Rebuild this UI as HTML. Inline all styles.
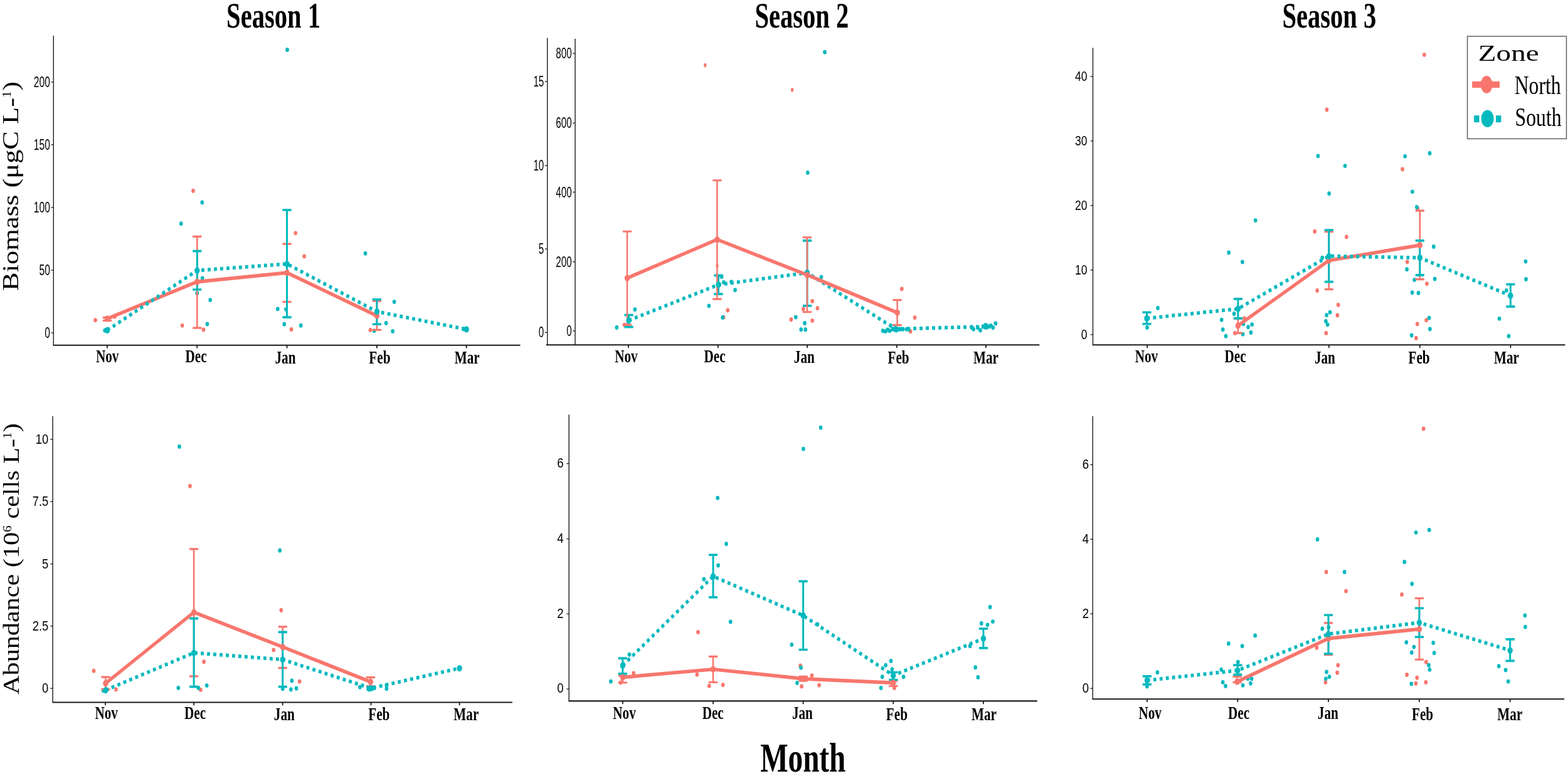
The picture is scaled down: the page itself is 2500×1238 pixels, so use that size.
<!DOCTYPE html>
<html><head><meta charset="utf-8"><title>Season Zone Biomass Abundance</title>
<style>
html,body{margin:0;padding:0;background:#fff;overflow:hidden;width:2500px;height:1238px;}
svg{display:block;}
</style></head>
<body>
<svg width="2500" height="1238" viewBox="0 0 2500 1238">
<rect x="0" y="0" width="2500" height="1238" fill="#fff"/>
<line x1="85.3" y1="57" x2="85.3" y2="550.7" stroke="#1a1a1a" stroke-width="1.4"/>
<line x1="81.5" y1="531" x2="85.3" y2="531" stroke="#1a1a1a" stroke-width="1.3"/>
<text transform="translate(79.9 539.1) scale(0.640 1)" font-family="'Liberation Sans', Arial, sans-serif" font-size="24.5" font-weight="normal" text-anchor="end" fill="#000">0</text>
<line x1="81.5" y1="431" x2="85.3" y2="431" stroke="#1a1a1a" stroke-width="1.3"/>
<text transform="translate(79.9 439.1) scale(0.640 1)" font-family="'Liberation Sans', Arial, sans-serif" font-size="24.5" font-weight="normal" text-anchor="end" fill="#000">50</text>
<line x1="81.5" y1="331" x2="85.3" y2="331" stroke="#1a1a1a" stroke-width="1.3"/>
<text transform="translate(79.9 339.1) scale(0.640 1)" font-family="'Liberation Sans', Arial, sans-serif" font-size="24.5" font-weight="normal" text-anchor="end" fill="#000">100</text>
<line x1="81.5" y1="231" x2="85.3" y2="231" stroke="#1a1a1a" stroke-width="1.3"/>
<text transform="translate(79.9 239.1) scale(0.640 1)" font-family="'Liberation Sans', Arial, sans-serif" font-size="24.5" font-weight="normal" text-anchor="end" fill="#000">150</text>
<line x1="81.5" y1="131" x2="85.3" y2="131" stroke="#1a1a1a" stroke-width="1.3"/>
<text transform="translate(79.9 139.1) scale(0.640 1)" font-family="'Liberation Sans', Arial, sans-serif" font-size="24.5" font-weight="normal" text-anchor="end" fill="#000">200</text>
<line x1="84.6" y1="550.7" x2="829.5" y2="550.7" stroke="#1a1a1a" stroke-width="2.1"/>
<line x1="170.8" y1="550.7" x2="170.8" y2="555.5" stroke="#1a1a1a" stroke-width="1.8"/>
<text transform="translate(171.1 578.4) scale(0.730 1)" font-family="'Liberation Serif', 'Times New Roman', serif" font-size="29" font-weight="bold" text-anchor="middle" fill="#000">Nov</text>
<line x1="314.2" y1="550.7" x2="314.2" y2="555.5" stroke="#1a1a1a" stroke-width="1.8"/>
<text transform="translate(312.6 578.4) scale(0.730 1)" font-family="'Liberation Serif', 'Times New Roman', serif" font-size="29" font-weight="bold" text-anchor="middle" fill="#000">Dec</text>
<line x1="457.5" y1="550.7" x2="457.5" y2="555.5" stroke="#1a1a1a" stroke-width="1.8"/>
<text transform="translate(455 580) scale(0.730 1)" font-family="'Liberation Serif', 'Times New Roman', serif" font-size="29" font-weight="bold" text-anchor="middle" fill="#000">Jan</text>
<line x1="600.9" y1="550.7" x2="600.9" y2="555.5" stroke="#1a1a1a" stroke-width="1.8"/>
<text transform="translate(605.4 580.2) scale(0.730 1)" font-family="'Liberation Serif', 'Times New Roman', serif" font-size="29" font-weight="bold" text-anchor="middle" fill="#000">Feb</text>
<line x1="743.7" y1="550.7" x2="743.7" y2="555.5" stroke="#1a1a1a" stroke-width="1.8"/>
<text transform="translate(744.7 580.2) scale(0.730 1)" font-family="'Liberation Serif', 'Times New Roman', serif" font-size="29" font-weight="bold" text-anchor="middle" fill="#000">Mar</text>
<g transform="scale(1 1.22)">
<circle cx="152" cy="418.6" r="2.85" fill="#F8766D"/>
<circle cx="308" cy="249.5" r="2.85" fill="#F8766D"/>
<circle cx="290.6" cy="425.7" r="2.85" fill="#F8766D"/>
<circle cx="324.5" cy="431.1" r="2.85" fill="#F8766D"/>
<circle cx="471.2" cy="304.8" r="2.85" fill="#F8766D"/>
<circle cx="485.1" cy="335.2" r="2.85" fill="#F8766D"/>
<circle cx="464.6" cy="430.7" r="2.85" fill="#F8766D"/>
<circle cx="590.5" cy="431.5" r="2.85" fill="#F8766D"/>
<circle cx="183" cy="413.9" r="2.85" fill="#F8766D"/>
<circle cx="167.2" cy="432.1" r="2.85" fill="#03B9BE"/>
<circle cx="458" cy="65.1" r="2.85" fill="#03B9BE"/>
<circle cx="322.3" cy="264.8" r="2.85" fill="#03B9BE"/>
<circle cx="288.8" cy="292.5" r="2.85" fill="#03B9BE"/>
<circle cx="322.7" cy="363.9" r="2.85" fill="#03B9BE"/>
<circle cx="335.2" cy="392.3" r="2.85" fill="#03B9BE"/>
<circle cx="330.4" cy="423.8" r="2.85" fill="#03B9BE"/>
<circle cx="442.8" cy="404" r="2.85" fill="#03B9BE"/>
<circle cx="456" cy="404.6" r="2.85" fill="#03B9BE"/>
<circle cx="453.2" cy="423.9" r="2.85" fill="#03B9BE"/>
<circle cx="479.7" cy="425.6" r="2.85" fill="#03B9BE"/>
<circle cx="582.5" cy="331.4" r="2.85" fill="#03B9BE"/>
<circle cx="628.6" cy="394.6" r="2.85" fill="#03B9BE"/>
<circle cx="615.6" cy="422.5" r="2.85" fill="#03B9BE"/>
<circle cx="626.1" cy="433.1" r="2.85" fill="#03B9BE"/>
<circle cx="596.6" cy="432.6" r="2.85" fill="#03B9BE"/>
<circle cx="739" cy="430.3" r="2.85" fill="#03B9BE"/>
<circle cx="314.3" cy="383.4" r="2.85" fill="#03B9BE"/>
<path d="M171 415.2V419.2M163.9 415.2H178.1M163.9 419.2H178.1" stroke="#F8766D" stroke-width="2.6" fill="none"/>
<path d="M314.3 309.3V428.8M307.2 309.3H321.4M307.2 428.8H321.4" stroke="#F8766D" stroke-width="2.6" fill="none"/>
<path d="M457.5 318.9V394.7M450.4 318.9H464.6M450.4 394.7H464.6" stroke="#F8766D" stroke-width="2.6" fill="none"/>
<path d="M600.9 393.5V431.5M593.8 393.5H608M593.8 431.5H608" stroke="#F8766D" stroke-width="2.6" fill="none"/>
<path d="M314.3 328.4V378.7M307.2 328.4H321.4M307.2 378.7H321.4" stroke="#03B9BE" stroke-width="3" fill="none"/>
<path d="M457.5 274.6V414.8M450.4 274.6H464.6M450.4 414.8H464.6" stroke="#03B9BE" stroke-width="3" fill="none"/>
<path d="M600.9 391.6V424M593.8 391.6H608M593.8 424H608" stroke="#03B9BE" stroke-width="3" fill="none"/>
<polyline points="171,416.7 314.3,368.5 457.5,356.6 600.9,412.9" stroke="#F8766D" stroke-width="4.7" fill="none" stroke-linejoin="round"/>
<polyline points="171,431.8 314.3,353.7 457.5,345.1 600.9,407.5 743.7,430.7" stroke="#03B9BE" stroke-width="4.7" fill="none" stroke-dasharray="4.8 5.2"/>
<circle cx="171" cy="416.7" r="4.2" fill="#F8766D"/>
<circle cx="314.3" cy="368.5" r="4.2" fill="#F8766D"/>
<circle cx="457.5" cy="356.6" r="4.2" fill="#F8766D"/>
<circle cx="600.9" cy="412.9" r="4.2" fill="#F8766D"/>
<circle cx="171" cy="431.8" r="4.2" fill="#03B9BE"/>
<circle cx="314.3" cy="353.7" r="4.2" fill="#03B9BE"/>
<circle cx="457.5" cy="345.1" r="4.2" fill="#03B9BE"/>
<circle cx="600.9" cy="407.5" r="4.2" fill="#03B9BE"/>
<circle cx="743.7" cy="430.7" r="4.2" fill="#03B9BE"/>
</g>
<line x1="917" y1="61.8" x2="917" y2="550.2" stroke="#1a1a1a" stroke-width="1.4"/>
<line x1="913.2" y1="527.9" x2="917" y2="527.9" stroke="#1a1a1a" stroke-width="1.3"/>
<text transform="translate(911.6 536) scale(0.620 1)" font-family="'Liberation Sans', Arial, sans-serif" font-size="24.5" font-weight="normal" text-anchor="end" fill="#000">0</text>
<line x1="913.2" y1="417.7" x2="917" y2="417.7" stroke="#1a1a1a" stroke-width="1.3"/>
<text transform="translate(911.6 425.8) scale(0.620 1)" font-family="'Liberation Sans', Arial, sans-serif" font-size="24.5" font-weight="normal" text-anchor="end" fill="#000">200</text>
<line x1="913.2" y1="306.5" x2="917" y2="306.5" stroke="#1a1a1a" stroke-width="1.3"/>
<text transform="translate(911.6 314.6) scale(0.620 1)" font-family="'Liberation Sans', Arial, sans-serif" font-size="24.5" font-weight="normal" text-anchor="end" fill="#000">400</text>
<line x1="913.2" y1="196.3" x2="917" y2="196.3" stroke="#1a1a1a" stroke-width="1.3"/>
<text transform="translate(911.6 204.4) scale(0.620 1)" font-family="'Liberation Sans', Arial, sans-serif" font-size="24.5" font-weight="normal" text-anchor="end" fill="#000">600</text>
<line x1="913.2" y1="85.3" x2="917" y2="85.3" stroke="#1a1a1a" stroke-width="1.3"/>
<text transform="translate(911.6 93.4) scale(0.620 1)" font-family="'Liberation Sans', Arial, sans-serif" font-size="24.5" font-weight="normal" text-anchor="end" fill="#000">800</text>
<line x1="872.7" y1="60.6" x2="872.7" y2="550.2" stroke="#1a1a1a" stroke-width="1.4"/>
<line x1="868.9" y1="530.3" x2="872.7" y2="530.3" stroke="#1a1a1a" stroke-width="1.3"/>
<text transform="translate(867.3 538.4) scale(0.620 1)" font-family="'Liberation Sans', Arial, sans-serif" font-size="24.5" font-weight="normal" text-anchor="end" fill="#000">0</text>
<line x1="868.9" y1="397.2" x2="872.7" y2="397.2" stroke="#1a1a1a" stroke-width="1.3"/>
<text transform="translate(867.3 405.3) scale(0.620 1)" font-family="'Liberation Sans', Arial, sans-serif" font-size="24.5" font-weight="normal" text-anchor="end" fill="#000">5</text>
<line x1="868.9" y1="264.1" x2="872.7" y2="264.1" stroke="#1a1a1a" stroke-width="1.3"/>
<text transform="translate(867.3 272.2) scale(0.620 1)" font-family="'Liberation Sans', Arial, sans-serif" font-size="24.5" font-weight="normal" text-anchor="end" fill="#000">10</text>
<line x1="868.9" y1="130.1" x2="872.7" y2="130.1" stroke="#1a1a1a" stroke-width="1.3"/>
<text transform="translate(867.3 138.2) scale(0.620 1)" font-family="'Liberation Sans', Arial, sans-serif" font-size="24.5" font-weight="normal" text-anchor="end" fill="#000">15</text>
<line x1="870.8" y1="550.2" x2="1657.3" y2="550.2" stroke="#1a1a1a" stroke-width="2.1"/>
<line x1="1002" y1="550.2" x2="1002" y2="555" stroke="#1a1a1a" stroke-width="1.8"/>
<text transform="translate(998.4 578.4) scale(0.730 1)" font-family="'Liberation Serif', 'Times New Roman', serif" font-size="29" font-weight="bold" text-anchor="middle" fill="#000">Nov</text>
<line x1="1144.8" y1="550.2" x2="1144.8" y2="555" stroke="#1a1a1a" stroke-width="1.8"/>
<text transform="translate(1139.6 578.4) scale(0.730 1)" font-family="'Liberation Serif', 'Times New Roman', serif" font-size="29" font-weight="bold" text-anchor="middle" fill="#000">Dec</text>
<line x1="1287" y1="550.2" x2="1287" y2="555" stroke="#1a1a1a" stroke-width="1.8"/>
<text transform="translate(1282.3 579.4) scale(0.730 1)" font-family="'Liberation Serif', 'Times New Roman', serif" font-size="29" font-weight="bold" text-anchor="middle" fill="#000">Jan</text>
<line x1="1429.8" y1="550.2" x2="1429.8" y2="555" stroke="#1a1a1a" stroke-width="1.8"/>
<text transform="translate(1432.6 579.9) scale(0.730 1)" font-family="'Liberation Serif', 'Times New Roman', serif" font-size="29" font-weight="bold" text-anchor="middle" fill="#000">Feb</text>
<line x1="1572" y1="550.2" x2="1572" y2="555" stroke="#1a1a1a" stroke-width="1.8"/>
<text transform="translate(1572 579.9) scale(0.730 1)" font-family="'Liberation Serif', 'Times New Roman', serif" font-size="29" font-weight="bold" text-anchor="middle" fill="#000">Mar</text>
<g transform="scale(1 1.22)">
<circle cx="995.5" cy="424.8" r="2.85" fill="#F8766D"/>
<circle cx="1153.5" cy="414.9" r="2.85" fill="#F8766D"/>
<circle cx="1160.3" cy="405.7" r="2.85" fill="#F8766D"/>
<circle cx="1295.2" cy="393.8" r="2.85" fill="#F8766D"/>
<circle cx="1303.4" cy="403" r="2.85" fill="#F8766D"/>
<circle cx="1280.8" cy="404" r="2.85" fill="#F8766D"/>
<circle cx="1261.3" cy="417.9" r="2.85" fill="#F8766D"/>
<circle cx="1295.2" cy="419.3" r="2.85" fill="#F8766D"/>
<circle cx="1437.8" cy="377.8" r="2.85" fill="#F8766D"/>
<circle cx="1458.6" cy="415.3" r="2.85" fill="#F8766D"/>
<circle cx="1451.7" cy="433.3" r="2.85" fill="#F8766D"/>
<ellipse cx="1124.2" cy="85.3" rx="2.1" ry="2.75" fill="#F8766D"/>
<ellipse cx="1263.1" cy="117.5" rx="2.1" ry="2.75" fill="#F8766D"/>
<ellipse cx="1143.5" cy="347.5" rx="2.1" ry="2.75" fill="#F8766D"/>
<circle cx="1315" cy="68.3" r="2.85" fill="#03B9BE"/>
<circle cx="1287.8" cy="225.8" r="2.85" fill="#03B9BE"/>
<circle cx="983.3" cy="428.3" r="2.85" fill="#03B9BE"/>
<circle cx="1012.3" cy="404.7" r="2.85" fill="#03B9BE"/>
<circle cx="1150.6" cy="361.8" r="2.85" fill="#03B9BE"/>
<circle cx="1153.9" cy="369.2" r="2.85" fill="#03B9BE"/>
<circle cx="1166.1" cy="368.7" r="2.85" fill="#03B9BE"/>
<circle cx="1172" cy="379.3" r="2.85" fill="#03B9BE"/>
<circle cx="1130.3" cy="399.9" r="2.85" fill="#03B9BE"/>
<circle cx="1152.2" cy="415.2" r="2.85" fill="#03B9BE"/>
<circle cx="1309.5" cy="362.3" r="2.85" fill="#03B9BE"/>
<circle cx="1268.8" cy="414.8" r="2.85" fill="#03B9BE"/>
<circle cx="1283" cy="422.5" r="2.85" fill="#03B9BE"/>
<circle cx="1277.2" cy="430.9" r="2.85" fill="#03B9BE"/>
<circle cx="1284.2" cy="430.9" r="2.85" fill="#03B9BE"/>
<circle cx="1407.6" cy="432.5" r="2.85" fill="#03B9BE"/>
<circle cx="1411.8" cy="433.3" r="2.85" fill="#03B9BE"/>
<circle cx="1415.2" cy="431.1" r="2.85" fill="#03B9BE"/>
<circle cx="1418.5" cy="432.5" r="2.85" fill="#03B9BE"/>
<circle cx="1420.2" cy="425.7" r="2.85" fill="#03B9BE"/>
<circle cx="1426.9" cy="429.8" r="2.85" fill="#03B9BE"/>
<circle cx="1429.4" cy="431.9" r="2.85" fill="#03B9BE"/>
<circle cx="1435.3" cy="430.5" r="2.85" fill="#03B9BE"/>
<circle cx="1439.5" cy="430.5" r="2.85" fill="#03B9BE"/>
<circle cx="1445.4" cy="430.5" r="2.85" fill="#03B9BE"/>
<circle cx="1448.8" cy="430.5" r="2.85" fill="#03B9BE"/>
<circle cx="1549.6" cy="428.1" r="2.85" fill="#03B9BE"/>
<circle cx="1552.1" cy="430.5" r="2.85" fill="#03B9BE"/>
<circle cx="1558.8" cy="428.4" r="2.85" fill="#03B9BE"/>
<circle cx="1563" cy="431.9" r="2.85" fill="#03B9BE"/>
<circle cx="1568" cy="427" r="2.85" fill="#03B9BE"/>
<circle cx="1571.4" cy="425" r="2.85" fill="#03B9BE"/>
<circle cx="1575.6" cy="427" r="2.85" fill="#03B9BE"/>
<circle cx="1579.8" cy="425.7" r="2.85" fill="#03B9BE"/>
<circle cx="1583.2" cy="428.4" r="2.85" fill="#03B9BE"/>
<circle cx="1587.4" cy="423" r="2.85" fill="#03B9BE"/>
<path d="M1002.5 412V427.5M995.4 412H1009.6M995.4 427.5H1009.6" stroke="#03B9BE" stroke-width="3" fill="none"/>
<path d="M1145.5 360.2V384.5M1138.4 360.2H1152.6M1138.4 384.5H1152.6" stroke="#03B9BE" stroke-width="3" fill="none"/>
<path d="M1287 314.7V399.9M1279.9 314.7H1294.1M1279.9 399.9H1294.1" stroke="#03B9BE" stroke-width="3" fill="none"/>
<path d="M1428 429.1V431.6M1420.9 429.1H1435.1M1420.9 431.6H1435.1" stroke="#03B9BE" stroke-width="3" fill="none"/>
<path d="M1572 425.8V428.3M1564.9 425.8H1579.1M1564.9 428.3H1579.1" stroke="#03B9BE" stroke-width="3" fill="none"/>
<path d="M1000 302.6V424.9M992.9 302.6H1007.1M992.9 424.9H1007.1" stroke="#F8766D" stroke-width="2.5" fill="none"/>
<path d="M1143.4 235.8V391.1M1136.3 235.8H1150.5M1136.3 391.1H1150.5" stroke="#F8766D" stroke-width="2.5" fill="none"/>
<path d="M1286.9 310.4V408M1279.8 310.4H1294M1279.8 408H1294" stroke="#F8766D" stroke-width="2.5" fill="none"/>
<path d="M1430.6 392.3V425.1M1423.5 392.3H1437.7M1423.5 425.1H1437.7" stroke="#F8766D" stroke-width="2.5" fill="none"/>
<polyline points="1002.5,419 1145.5,372.3 1287,356.7 1428,430.3 1572,427" stroke="#03B9BE" stroke-width="4.7" fill="none" stroke-dasharray="4.8 5.2"/>
<polyline points="1000,363.6 1143.4,313.2 1286.9,359.5 1430.6,408.8" stroke="#F8766D" stroke-width="4.7" fill="none" stroke-linejoin="round"/>
<circle cx="1002.5" cy="419" r="4.2" fill="#03B9BE"/>
<circle cx="1145.5" cy="372.3" r="4.2" fill="#03B9BE"/>
<circle cx="1287" cy="356.7" r="4.2" fill="#03B9BE"/>
<circle cx="1428" cy="430.3" r="4.2" fill="#03B9BE"/>
<circle cx="1572" cy="427" r="4.2" fill="#03B9BE"/>
<circle cx="1000" cy="363.6" r="4.2" fill="#F8766D"/>
<circle cx="1143.4" cy="313.2" r="4.2" fill="#F8766D"/>
<circle cx="1286.9" cy="359.5" r="4.2" fill="#F8766D"/>
<circle cx="1430.6" cy="408.8" r="4.2" fill="#F8766D"/>
</g>
<line x1="1742.5" y1="76.2" x2="1742.5" y2="550.3" stroke="#1a1a1a" stroke-width="1.4"/>
<line x1="1738.7" y1="533.8" x2="1742.5" y2="533.8" stroke="#1a1a1a" stroke-width="1.3"/>
<text transform="translate(1733.5 541.2) scale(0.770 1)" font-family="'Liberation Sans', Arial, sans-serif" font-size="22.7" font-weight="normal" text-anchor="end" fill="#000">0</text>
<line x1="1738.7" y1="430.8" x2="1742.5" y2="430.8" stroke="#1a1a1a" stroke-width="1.3"/>
<text transform="translate(1733.5 438.2) scale(0.770 1)" font-family="'Liberation Sans', Arial, sans-serif" font-size="22.7" font-weight="normal" text-anchor="end" fill="#000">10</text>
<line x1="1738.7" y1="327.9" x2="1742.5" y2="327.9" stroke="#1a1a1a" stroke-width="1.3"/>
<text transform="translate(1733.5 335.3) scale(0.770 1)" font-family="'Liberation Sans', Arial, sans-serif" font-size="22.7" font-weight="normal" text-anchor="end" fill="#000">20</text>
<line x1="1738.7" y1="224.9" x2="1742.5" y2="224.9" stroke="#1a1a1a" stroke-width="1.3"/>
<text transform="translate(1733.5 232.3) scale(0.770 1)" font-family="'Liberation Sans', Arial, sans-serif" font-size="22.7" font-weight="normal" text-anchor="end" fill="#000">30</text>
<line x1="1738.7" y1="122" x2="1742.5" y2="122" stroke="#1a1a1a" stroke-width="1.3"/>
<text transform="translate(1733.5 129.4) scale(0.770 1)" font-family="'Liberation Sans', Arial, sans-serif" font-size="22.7" font-weight="normal" text-anchor="end" fill="#000">40</text>
<line x1="1741.8" y1="550.3" x2="2495.5" y2="550.3" stroke="#1a1a1a" stroke-width="2.1"/>
<line x1="1829" y1="550.3" x2="1829" y2="555.1" stroke="#1a1a1a" stroke-width="1.8"/>
<text transform="translate(1827.9 578.4) scale(0.730 1)" font-family="'Liberation Serif', 'Times New Roman', serif" font-size="29" font-weight="bold" text-anchor="middle" fill="#000">Nov</text>
<line x1="1973.9" y1="550.3" x2="1973.9" y2="555.1" stroke="#1a1a1a" stroke-width="1.8"/>
<text transform="translate(1969.5 578.4) scale(0.730 1)" font-family="'Liberation Serif', 'Times New Roman', serif" font-size="29" font-weight="bold" text-anchor="middle" fill="#000">Dec</text>
<line x1="2118.8" y1="550.3" x2="2118.8" y2="555.1" stroke="#1a1a1a" stroke-width="1.8"/>
<text transform="translate(2112.4 580) scale(0.730 1)" font-family="'Liberation Serif', 'Times New Roman', serif" font-size="29" font-weight="bold" text-anchor="middle" fill="#000">Jan</text>
<line x1="2263.8" y1="550.3" x2="2263.8" y2="555.1" stroke="#1a1a1a" stroke-width="1.8"/>
<text transform="translate(2262.5 580) scale(0.730 1)" font-family="'Liberation Serif', 'Times New Roman', serif" font-size="29" font-weight="bold" text-anchor="middle" fill="#000">Feb</text>
<line x1="2408.4" y1="550.3" x2="2408.4" y2="555.1" stroke="#1a1a1a" stroke-width="1.8"/>
<text transform="translate(2401.9 580) scale(0.730 1)" font-family="'Liberation Serif', 'Times New Roman', serif" font-size="29" font-weight="bold" text-anchor="middle" fill="#000">Mar</text>
<g transform="scale(1 1.22)">
<circle cx="1969" cy="435.6" r="2.85" fill="#F8766D"/>
<circle cx="1984" cy="416.3" r="2.85" fill="#F8766D"/>
<circle cx="2115.4" cy="143.4" r="2.85" fill="#F8766D"/>
<circle cx="2270.8" cy="71.6" r="2.85" fill="#F8766D"/>
<circle cx="2096.2" cy="302.6" r="2.85" fill="#F8766D"/>
<circle cx="2146.8" cy="309.8" r="2.85" fill="#F8766D"/>
<circle cx="2100.1" cy="379.9" r="2.85" fill="#F8766D"/>
<circle cx="2133.7" cy="398.7" r="2.85" fill="#F8766D"/>
<circle cx="2132.4" cy="412.3" r="2.85" fill="#F8766D"/>
<circle cx="2114.3" cy="435.6" r="2.85" fill="#F8766D"/>
<circle cx="2236.1" cy="221.3" r="2.85" fill="#F8766D"/>
<circle cx="2260.3" cy="273" r="2.85" fill="#F8766D"/>
<circle cx="2243.7" cy="342.6" r="2.85" fill="#F8766D"/>
<circle cx="2275" cy="371" r="2.85" fill="#F8766D"/>
<circle cx="2274.1" cy="418.6" r="2.85" fill="#F8766D"/>
<circle cx="2259.7" cy="423.8" r="2.85" fill="#F8766D"/>
<circle cx="2257.9" cy="442.2" r="2.85" fill="#F8766D"/>
<circle cx="1846" cy="402.8" r="2.85" fill="#03B9BE"/>
<circle cx="1829" cy="428.2" r="2.85" fill="#03B9BE"/>
<circle cx="2001.7" cy="288.2" r="2.85" fill="#03B9BE"/>
<circle cx="1959.1" cy="330.3" r="2.85" fill="#03B9BE"/>
<circle cx="1980.9" cy="342.6" r="2.85" fill="#03B9BE"/>
<circle cx="1967.6" cy="410.3" r="2.85" fill="#03B9BE"/>
<circle cx="1947.7" cy="418.3" r="2.85" fill="#03B9BE"/>
<circle cx="1982.4" cy="423.6" r="2.85" fill="#03B9BE"/>
<circle cx="1990.1" cy="427.6" r="2.85" fill="#03B9BE"/>
<circle cx="1996.2" cy="424.3" r="2.85" fill="#03B9BE"/>
<circle cx="1949.7" cy="431" r="2.85" fill="#03B9BE"/>
<circle cx="1954.5" cy="439.5" r="2.85" fill="#03B9BE"/>
<circle cx="1981.6" cy="437" r="2.85" fill="#03B9BE"/>
<circle cx="1994.5" cy="434.9" r="2.85" fill="#03B9BE"/>
<circle cx="2101.4" cy="204" r="2.85" fill="#03B9BE"/>
<circle cx="2144.5" cy="216.9" r="2.85" fill="#03B9BE"/>
<circle cx="2119.1" cy="253" r="2.85" fill="#03B9BE"/>
<circle cx="2108.2" cy="337" r="2.85" fill="#03B9BE"/>
<circle cx="2120.6" cy="408.3" r="2.85" fill="#03B9BE"/>
<circle cx="2115.2" cy="412" r="2.85" fill="#03B9BE"/>
<circle cx="2113.9" cy="420.1" r="2.85" fill="#03B9BE"/>
<circle cx="2116.6" cy="424.5" r="2.85" fill="#03B9BE"/>
<circle cx="2240.2" cy="204.4" r="2.85" fill="#03B9BE"/>
<circle cx="2279.5" cy="200.4" r="2.85" fill="#03B9BE"/>
<circle cx="2251.9" cy="250.7" r="2.85" fill="#03B9BE"/>
<circle cx="2258.9" cy="270.9" r="2.85" fill="#03B9BE"/>
<circle cx="2285.8" cy="322.5" r="2.85" fill="#03B9BE"/>
<circle cx="2243.1" cy="352.3" r="2.85" fill="#03B9BE"/>
<circle cx="2255.2" cy="365.9" r="2.85" fill="#03B9BE"/>
<circle cx="2287.6" cy="364.8" r="2.85" fill="#03B9BE"/>
<circle cx="2251.6" cy="382.5" r="2.85" fill="#03B9BE"/>
<circle cx="2261.5" cy="383.2" r="2.85" fill="#03B9BE"/>
<circle cx="2278.6" cy="415.7" r="2.85" fill="#03B9BE"/>
<circle cx="2279.9" cy="430.4" r="2.85" fill="#03B9BE"/>
<circle cx="2250.7" cy="438.5" r="2.85" fill="#03B9BE"/>
<circle cx="2432.5" cy="341.9" r="2.85" fill="#03B9BE"/>
<circle cx="2433" cy="365.1" r="2.85" fill="#03B9BE"/>
<circle cx="2401.9" cy="379.8" r="2.85" fill="#03B9BE"/>
<circle cx="2390.6" cy="416.7" r="2.85" fill="#03B9BE"/>
<circle cx="2405.5" cy="439.6" r="2.85" fill="#03B9BE"/>
<path d="M1973.9 416.7V435.6M1966.8 416.7H1981M1966.8 435.6H1981" stroke="#F8766D" stroke-width="2.6" fill="none"/>
<path d="M2118.8 303V378.4M2111.7 303H2125.9M2111.7 378.4H2125.9" stroke="#F8766D" stroke-width="2.6" fill="none"/>
<path d="M2263.8 275.5V365.2M2256.7 275.5H2270.9M2256.7 365.2H2270.9" stroke="#F8766D" stroke-width="2.6" fill="none"/>
<path d="M1828.5 408.4V423.6M1821.4 408.4H1835.6M1821.4 423.6H1835.6" stroke="#03B9BE" stroke-width="3" fill="none"/>
<path d="M1973.9 390.9V416.3M1966.8 390.9H1981M1966.8 416.3H1981" stroke="#03B9BE" stroke-width="3" fill="none"/>
<path d="M2118.8 300.8V368.5M2111.7 300.8H2125.9M2111.7 368.5H2125.9" stroke="#03B9BE" stroke-width="3" fill="none"/>
<path d="M2263.8 314.6V359.7M2256.7 314.6H2270.9M2256.7 359.7H2270.9" stroke="#03B9BE" stroke-width="3" fill="none"/>
<path d="M2408.4 371.8V400.9M2401.3 371.8H2415.5M2401.3 400.9H2415.5" stroke="#03B9BE" stroke-width="3" fill="none"/>
<polyline points="1973.9,425.7 2118.8,340.6 2263.8,320.6" stroke="#F8766D" stroke-width="4.7" fill="none" stroke-linejoin="round"/>
<polyline points="1828.5,416.3 1973.9,403.8 2118.8,334.9 2263.8,337 2408.4,386.6" stroke="#03B9BE" stroke-width="4.7" fill="none" stroke-dasharray="4.8 5.2"/>
<circle cx="1973.9" cy="425.7" r="4.2" fill="#F8766D"/>
<circle cx="2118.8" cy="340.6" r="4.2" fill="#F8766D"/>
<circle cx="2263.8" cy="320.6" r="4.2" fill="#F8766D"/>
<circle cx="1828.5" cy="416.3" r="4.2" fill="#03B9BE"/>
<circle cx="1973.9" cy="403.8" r="4.2" fill="#03B9BE"/>
<circle cx="2118.8" cy="334.9" r="4.2" fill="#03B9BE"/>
<circle cx="2263.8" cy="337" r="4.2" fill="#03B9BE"/>
<circle cx="2408.4" cy="386.6" r="4.2" fill="#03B9BE"/>
</g>
<line x1="84.1" y1="664" x2="84.1" y2="1120.5" stroke="#1a1a1a" stroke-width="1.4"/>
<line x1="80.3" y1="1098.2" x2="84.1" y2="1098.2" stroke="#1a1a1a" stroke-width="1.3"/>
<text transform="translate(77.3 1105.1) scale(0.810 1)" font-family="'Liberation Sans', Arial, sans-serif" font-size="22.7" font-weight="normal" text-anchor="end" fill="#000">0</text>
<line x1="80.3" y1="998.9" x2="84.1" y2="998.9" stroke="#1a1a1a" stroke-width="1.3"/>
<text transform="translate(77.3 1005.8) scale(0.810 1)" font-family="'Liberation Sans', Arial, sans-serif" font-size="22.7" font-weight="normal" text-anchor="end" fill="#000">2.5</text>
<line x1="80.3" y1="899.6" x2="84.1" y2="899.6" stroke="#1a1a1a" stroke-width="1.3"/>
<text transform="translate(77.3 906.5) scale(0.810 1)" font-family="'Liberation Sans', Arial, sans-serif" font-size="22.7" font-weight="normal" text-anchor="end" fill="#000">5</text>
<line x1="80.3" y1="800.2" x2="84.1" y2="800.2" stroke="#1a1a1a" stroke-width="1.3"/>
<text transform="translate(77.3 807.1) scale(0.810 1)" font-family="'Liberation Sans', Arial, sans-serif" font-size="22.7" font-weight="normal" text-anchor="end" fill="#000">7.5</text>
<line x1="80.3" y1="700.9" x2="84.1" y2="700.9" stroke="#1a1a1a" stroke-width="1.3"/>
<text transform="translate(77.3 707.8) scale(0.810 1)" font-family="'Liberation Sans', Arial, sans-serif" font-size="22.7" font-weight="normal" text-anchor="end" fill="#000">10</text>
<line x1="83.4" y1="1120.5" x2="816.9" y2="1120.5" stroke="#1a1a1a" stroke-width="2.1"/>
<line x1="168" y1="1120.5" x2="168" y2="1125.3" stroke="#1a1a1a" stroke-width="1.8"/>
<text transform="translate(169.7 1147.4) scale(0.730 1)" font-family="'Liberation Serif', 'Times New Roman', serif" font-size="29" font-weight="bold" text-anchor="middle" fill="#000">Nov</text>
<line x1="309.1" y1="1120.5" x2="309.1" y2="1125.3" stroke="#1a1a1a" stroke-width="1.8"/>
<text transform="translate(311 1147.4) scale(0.730 1)" font-family="'Liberation Serif', 'Times New Roman', serif" font-size="29" font-weight="bold" text-anchor="middle" fill="#000">Dec</text>
<line x1="450.7" y1="1120.5" x2="450.7" y2="1125.3" stroke="#1a1a1a" stroke-width="1.8"/>
<text transform="translate(453.3 1149) scale(0.730 1)" font-family="'Liberation Serif', 'Times New Roman', serif" font-size="29" font-weight="bold" text-anchor="middle" fill="#000">Jan</text>
<line x1="591.5" y1="1120.5" x2="591.5" y2="1125.3" stroke="#1a1a1a" stroke-width="1.8"/>
<text transform="translate(604.3 1148.9) scale(0.730 1)" font-family="'Liberation Serif', 'Times New Roman', serif" font-size="29" font-weight="bold" text-anchor="middle" fill="#000">Feb</text>
<line x1="732.6" y1="1120.5" x2="732.6" y2="1125.3" stroke="#1a1a1a" stroke-width="1.8"/>
<text transform="translate(743.3 1148.9) scale(0.730 1)" font-family="'Liberation Serif', 'Times New Roman', serif" font-size="29" font-weight="bold" text-anchor="middle" fill="#000">Mar</text>
<g transform="scale(1 1.22)">
<circle cx="149.5" cy="877.3" r="2.85" fill="#F8766D"/>
<circle cx="184.9" cy="901.6" r="2.85" fill="#F8766D"/>
<circle cx="302.9" cy="635.7" r="2.85" fill="#F8766D"/>
<circle cx="325.1" cy="865.3" r="2.85" fill="#F8766D"/>
<circle cx="319.9" cy="902" r="2.85" fill="#F8766D"/>
<circle cx="448.3" cy="797.9" r="2.85" fill="#F8766D"/>
<circle cx="436.2" cy="849.9" r="2.85" fill="#F8766D"/>
<circle cx="477.6" cy="891.2" r="2.85" fill="#F8766D"/>
<circle cx="164.8" cy="903" r="2.85" fill="#03B9BE"/>
<circle cx="286" cy="584" r="2.85" fill="#03B9BE"/>
<circle cx="284.3" cy="899.6" r="2.85" fill="#03B9BE"/>
<circle cx="316.3" cy="899.6" r="2.85" fill="#03B9BE"/>
<circle cx="329.7" cy="896.4" r="2.85" fill="#03B9BE"/>
<circle cx="446.1" cy="719.8" r="2.85" fill="#03B9BE"/>
<circle cx="465.3" cy="890.1" r="2.85" fill="#03B9BE"/>
<circle cx="450.7" cy="900.6" r="2.85" fill="#03B9BE"/>
<circle cx="463.8" cy="901.6" r="2.85" fill="#03B9BE"/>
<circle cx="472.5" cy="900.2" r="2.85" fill="#03B9BE"/>
<circle cx="573.8" cy="898.6" r="2.85" fill="#03B9BE"/>
<circle cx="616.3" cy="896" r="2.85" fill="#03B9BE"/>
<circle cx="616.3" cy="900.6" r="2.85" fill="#03B9BE"/>
<circle cx="587.9" cy="901.6" r="2.85" fill="#03B9BE"/>
<path d="M168.4 885.4V901.3M161.3 885.4H175.5M161.3 901.3H175.5" stroke="#F8766D" stroke-width="2.6" fill="none"/>
<path d="M309.1 717.9V884.3M302 717.9H316.2M302 884.3H316.2" stroke="#F8766D" stroke-width="2.6" fill="none"/>
<path d="M450.7 819.5V873.4M443.6 819.5H457.8M443.6 873.4H457.8" stroke="#F8766D" stroke-width="2.6" fill="none"/>
<path d="M590.8 885.7V897.5M583.7 885.7H597.9M583.7 897.5H597.9" stroke="#F8766D" stroke-width="2.6" fill="none"/>
<path d="M309.1 808.7V898M302 808.7H316.2M302 898H316.2" stroke="#03B9BE" stroke-width="3" fill="none"/>
<path d="M450.7 826.5V898M443.6 826.5H457.8M443.6 898H457.8" stroke="#03B9BE" stroke-width="3" fill="none"/>
<path d="M591.5 898.8V901.2M584.4 898.8H598.6M584.4 901.2H598.6" stroke="#03B9BE" stroke-width="3" fill="none"/>
<polyline points="168.4,893.6 309.1,800.7 450.7,846 590.8,891.6" stroke="#F8766D" stroke-width="4.7" fill="none" stroke-linejoin="round"/>
<polyline points="168.4,902.5 309.1,853.7 450.7,862.5 591.5,900 732.6,873.8" stroke="#03B9BE" stroke-width="4.7" fill="none" stroke-dasharray="4.8 5.2"/>
<circle cx="168.4" cy="893.6" r="4.2" fill="#F8766D"/>
<circle cx="309.1" cy="800.7" r="4.2" fill="#F8766D"/>
<circle cx="450.7" cy="846" r="4.2" fill="#F8766D"/>
<circle cx="590.8" cy="891.6" r="4.2" fill="#F8766D"/>
<circle cx="168.4" cy="902.5" r="4.2" fill="#03B9BE"/>
<circle cx="309.1" cy="853.7" r="4.2" fill="#03B9BE"/>
<circle cx="450.7" cy="862.5" r="4.2" fill="#03B9BE"/>
<circle cx="591.5" cy="900" r="4.2" fill="#03B9BE"/>
<circle cx="732.6" cy="873.8" r="4.2" fill="#03B9BE"/>
</g>
<line x1="907.2" y1="661.4" x2="907.2" y2="1118.4" stroke="#1a1a1a" stroke-width="1.4"/>
<line x1="903.4" y1="1099.2" x2="907.2" y2="1099.2" stroke="#1a1a1a" stroke-width="1.3"/>
<text transform="translate(898.5 1105.4) scale(0.820 1)" font-family="'Liberation Sans', Arial, sans-serif" font-size="22.7" font-weight="normal" text-anchor="end" fill="#000">0</text>
<line x1="903.4" y1="979.4" x2="907.2" y2="979.4" stroke="#1a1a1a" stroke-width="1.3"/>
<text transform="translate(898.5 985.6) scale(0.820 1)" font-family="'Liberation Sans', Arial, sans-serif" font-size="22.7" font-weight="normal" text-anchor="end" fill="#000">2</text>
<line x1="903.4" y1="859.6" x2="907.2" y2="859.6" stroke="#1a1a1a" stroke-width="1.3"/>
<text transform="translate(898.5 865.8) scale(0.820 1)" font-family="'Liberation Sans', Arial, sans-serif" font-size="22.7" font-weight="normal" text-anchor="end" fill="#000">4</text>
<line x1="903.4" y1="739.7" x2="907.2" y2="739.7" stroke="#1a1a1a" stroke-width="1.3"/>
<text transform="translate(898.5 745.9) scale(0.820 1)" font-family="'Liberation Sans', Arial, sans-serif" font-size="22.7" font-weight="normal" text-anchor="end" fill="#000">6</text>
<line x1="906.5" y1="1118.4" x2="1653.7" y2="1118.4" stroke="#1a1a1a" stroke-width="2.1"/>
<line x1="992.8" y1="1118.4" x2="992.8" y2="1123.2" stroke="#1a1a1a" stroke-width="1.8"/>
<text transform="translate(995.5 1147) scale(0.730 1)" font-family="'Liberation Serif', 'Times New Roman', serif" font-size="29" font-weight="bold" text-anchor="middle" fill="#000">Nov</text>
<line x1="1137" y1="1118.4" x2="1137" y2="1123.2" stroke="#1a1a1a" stroke-width="1.8"/>
<text transform="translate(1136.7 1147) scale(0.730 1)" font-family="'Liberation Serif', 'Times New Roman', serif" font-size="29" font-weight="bold" text-anchor="middle" fill="#000">Dec</text>
<line x1="1280.6" y1="1118.4" x2="1280.6" y2="1123.2" stroke="#1a1a1a" stroke-width="1.8"/>
<text transform="translate(1279.4 1147.4) scale(0.730 1)" font-family="'Liberation Serif', 'Times New Roman', serif" font-size="29" font-weight="bold" text-anchor="middle" fill="#000">Jan</text>
<line x1="1424.2" y1="1118.4" x2="1424.2" y2="1123.2" stroke="#1a1a1a" stroke-width="1.8"/>
<text transform="translate(1429.9 1148.6) scale(0.730 1)" font-family="'Liberation Serif', 'Times New Roman', serif" font-size="29" font-weight="bold" text-anchor="middle" fill="#000">Feb</text>
<line x1="1567.9" y1="1118.4" x2="1567.9" y2="1123.2" stroke="#1a1a1a" stroke-width="1.8"/>
<text transform="translate(1569 1148.6) scale(0.730 1)" font-family="'Liberation Serif', 'Times New Roman', serif" font-size="29" font-weight="bold" text-anchor="middle" fill="#000">Mar</text>
<g transform="scale(1 1.22)">
<circle cx="989.6" cy="892.6" r="2.85" fill="#F8766D"/>
<circle cx="1010.2" cy="880.3" r="2.85" fill="#F8766D"/>
<circle cx="1113" cy="826.6" r="2.85" fill="#F8766D"/>
<circle cx="1111.3" cy="882.1" r="2.85" fill="#F8766D"/>
<circle cx="1130.7" cy="897" r="2.85" fill="#F8766D"/>
<circle cx="1152.7" cy="895.6" r="2.85" fill="#F8766D"/>
<circle cx="1276.1" cy="870.5" r="2.85" fill="#F8766D"/>
<circle cx="1294.4" cy="883.3" r="2.85" fill="#F8766D"/>
<circle cx="1306" cy="896" r="2.85" fill="#F8766D"/>
<circle cx="1278.1" cy="897.6" r="2.85" fill="#F8766D"/>
<circle cx="1426" cy="899.6" r="2.85" fill="#F8766D"/>
<circle cx="973.9" cy="891.1" r="2.85" fill="#03B9BE"/>
<circle cx="1003.4" cy="855.9" r="2.85" fill="#03B9BE"/>
<circle cx="1122.3" cy="757.4" r="2.85" fill="#03B9BE"/>
<circle cx="1145.1" cy="739.4" r="2.85" fill="#03B9BE"/>
<circle cx="1158" cy="711.3" r="2.85" fill="#03B9BE"/>
<circle cx="1144.2" cy="651.3" r="2.85" fill="#03B9BE"/>
<circle cx="1164.7" cy="813.1" r="2.85" fill="#03B9BE"/>
<circle cx="1308.5" cy="559.3" r="2.85" fill="#03B9BE"/>
<circle cx="1280.9" cy="587" r="2.85" fill="#03B9BE"/>
<circle cx="1303.4" cy="816.4" r="2.85" fill="#03B9BE"/>
<circle cx="1262.3" cy="843" r="2.85" fill="#03B9BE"/>
<circle cx="1277" cy="873.2" r="2.85" fill="#03B9BE"/>
<circle cx="1270.9" cy="893" r="2.85" fill="#03B9BE"/>
<circle cx="1420.5" cy="864.4" r="2.85" fill="#03B9BE"/>
<circle cx="1412.1" cy="869.8" r="2.85" fill="#03B9BE"/>
<circle cx="1422.4" cy="875.2" r="2.85" fill="#03B9BE"/>
<circle cx="1406.7" cy="885.1" r="2.85" fill="#03B9BE"/>
<circle cx="1440.5" cy="885.1" r="2.85" fill="#03B9BE"/>
<circle cx="1404.6" cy="899.6" r="2.85" fill="#03B9BE"/>
<circle cx="1578.6" cy="793.9" r="2.85" fill="#03B9BE"/>
<circle cx="1582.9" cy="812.8" r="2.85" fill="#03B9BE"/>
<circle cx="1564.8" cy="815.2" r="2.85" fill="#03B9BE"/>
<circle cx="1574.5" cy="817.1" r="2.85" fill="#03B9BE"/>
<circle cx="1546.6" cy="844.9" r="2.85" fill="#03B9BE"/>
<circle cx="1555.1" cy="872.8" r="2.85" fill="#03B9BE"/>
<circle cx="1559.4" cy="885.7" r="2.85" fill="#03B9BE"/>
<path d="M992.8 883.6V892.6M985.7 883.6H999.9M985.7 892.6H999.9" stroke="#F8766D" stroke-width="2.6" fill="none"/>
<path d="M1137 858.5V892.2M1129.9 858.5H1144.1M1129.9 892.2H1144.1" stroke="#F8766D" stroke-width="2.6" fill="none"/>
<path d="M1280.6 884.8V890.4M1273.5 884.8H1287.7M1273.5 890.4H1287.7" stroke="#F8766D" stroke-width="2.6" fill="none"/>
<path d="M1424.2 890.2V897.1M1417.1 890.2H1431.3M1417.1 897.1H1431.3" stroke="#F8766D" stroke-width="2.6" fill="none"/>
<path d="M992.8 860.8V881.1M985.7 860.8H999.9M985.7 881.1H999.9" stroke="#03B9BE" stroke-width="3" fill="none"/>
<path d="M1137 725.6V781.1M1129.9 725.6H1144.1M1129.9 781.1H1144.1" stroke="#03B9BE" stroke-width="3" fill="none"/>
<path d="M1280.6 760.1V849.6M1273.5 760.1H1287.7M1273.5 849.6H1287.7" stroke="#03B9BE" stroke-width="3" fill="none"/>
<path d="M1424.2 879.1V888.9M1417.1 879.1H1431.3M1417.1 888.9H1431.3" stroke="#03B9BE" stroke-width="3" fill="none"/>
<path d="M1567.9 822.1V847.5M1560.8 822.1H1575M1560.8 847.5H1575" stroke="#03B9BE" stroke-width="3" fill="none"/>
<polyline points="992.8,885.7 1137,875.2 1280.6,887.6 1424.2,893" stroke="#F8766D" stroke-width="4.7" fill="none" stroke-linejoin="round"/>
<polyline points="992.8,870.4 1137,753.6 1280.6,804.9 1424.2,883.2 1567.9,835" stroke="#03B9BE" stroke-width="4.7" fill="none" stroke-dasharray="4.8 5.2"/>
<circle cx="992.8" cy="885.7" r="4.2" fill="#F8766D"/>
<circle cx="1137" cy="875.2" r="4.2" fill="#F8766D"/>
<circle cx="1280.6" cy="887.6" r="4.2" fill="#F8766D"/>
<circle cx="1424.2" cy="893" r="4.2" fill="#F8766D"/>
<circle cx="992.8" cy="870.4" r="4.2" fill="#03B9BE"/>
<circle cx="1137" cy="753.6" r="4.2" fill="#03B9BE"/>
<circle cx="1280.6" cy="804.9" r="4.2" fill="#03B9BE"/>
<circle cx="1424.2" cy="883.2" r="4.2" fill="#03B9BE"/>
<circle cx="1567.9" cy="835" r="4.2" fill="#03B9BE"/>
</g>
<line x1="1742.2" y1="664" x2="1742.2" y2="1115.2" stroke="#1a1a1a" stroke-width="1.4"/>
<line x1="1738.4" y1="1098.2" x2="1742.2" y2="1098.2" stroke="#1a1a1a" stroke-width="1.3"/>
<text transform="translate(1736.2 1104.6) scale(0.820 1)" font-family="'Liberation Sans', Arial, sans-serif" font-size="22.7" font-weight="normal" text-anchor="end" fill="#000">0</text>
<line x1="1738.4" y1="979.3" x2="1742.2" y2="979.3" stroke="#1a1a1a" stroke-width="1.3"/>
<text transform="translate(1736.2 985.7) scale(0.820 1)" font-family="'Liberation Sans', Arial, sans-serif" font-size="22.7" font-weight="normal" text-anchor="end" fill="#000">2</text>
<line x1="1738.4" y1="860.3" x2="1742.2" y2="860.3" stroke="#1a1a1a" stroke-width="1.3"/>
<text transform="translate(1736.2 866.7) scale(0.820 1)" font-family="'Liberation Sans', Arial, sans-serif" font-size="22.7" font-weight="normal" text-anchor="end" fill="#000">4</text>
<line x1="1738.4" y1="741.4" x2="1742.2" y2="741.4" stroke="#1a1a1a" stroke-width="1.3"/>
<text transform="translate(1736.2 747.8) scale(0.820 1)" font-family="'Liberation Sans', Arial, sans-serif" font-size="22.7" font-weight="normal" text-anchor="end" fill="#000">6</text>
<line x1="1741.5" y1="1115.2" x2="2494" y2="1115.2" stroke="#1a1a1a" stroke-width="2.1"/>
<line x1="1828.9" y1="1115.2" x2="1828.9" y2="1120" stroke="#1a1a1a" stroke-width="1.8"/>
<text transform="translate(1833.7 1147) scale(0.730 1)" font-family="'Liberation Serif', 'Times New Roman', serif" font-size="29" font-weight="bold" text-anchor="middle" fill="#000">Nov</text>
<line x1="1973.3" y1="1115.2" x2="1973.3" y2="1120" stroke="#1a1a1a" stroke-width="1.8"/>
<text transform="translate(1975 1147) scale(0.730 1)" font-family="'Liberation Serif', 'Times New Roman', serif" font-size="29" font-weight="bold" text-anchor="middle" fill="#000">Dec</text>
<line x1="2118" y1="1115.2" x2="2118" y2="1120" stroke="#1a1a1a" stroke-width="1.8"/>
<text transform="translate(2117.3 1147.4) scale(0.730 1)" font-family="'Liberation Serif', 'Times New Roman', serif" font-size="29" font-weight="bold" text-anchor="middle" fill="#000">Jan</text>
<line x1="2262.9" y1="1115.2" x2="2262.9" y2="1120" stroke="#1a1a1a" stroke-width="1.8"/>
<text transform="translate(2268 1149) scale(0.730 1)" font-family="'Liberation Serif', 'Times New Roman', serif" font-size="29" font-weight="bold" text-anchor="middle" fill="#000">Feb</text>
<line x1="2407.7" y1="1115.2" x2="2407.7" y2="1120" stroke="#1a1a1a" stroke-width="1.8"/>
<text transform="translate(2407.3 1149) scale(0.730 1)" font-family="'Liberation Serif', 'Times New Roman', serif" font-size="29" font-weight="bold" text-anchor="middle" fill="#000">Mar</text>
<g transform="scale(1 1.22)">
<circle cx="2269.7" cy="560.7" r="2.85" fill="#F8766D"/>
<circle cx="2114.6" cy="748" r="2.85" fill="#F8766D"/>
<circle cx="2146.1" cy="773" r="2.85" fill="#F8766D"/>
<circle cx="2099.4" cy="847" r="2.85" fill="#F8766D"/>
<circle cx="2133.3" cy="869.8" r="2.85" fill="#F8766D"/>
<circle cx="2132.1" cy="879.7" r="2.85" fill="#F8766D"/>
<circle cx="2113.4" cy="892.2" r="2.85" fill="#F8766D"/>
<circle cx="2235" cy="777.5" r="2.85" fill="#F8766D"/>
<circle cx="2273.8" cy="865.8" r="2.85" fill="#F8766D"/>
<circle cx="2243.1" cy="882.3" r="2.85" fill="#F8766D"/>
<circle cx="2259.3" cy="886.2" r="2.85" fill="#F8766D"/>
<circle cx="2257.4" cy="893.6" r="2.85" fill="#F8766D"/>
<circle cx="2273.3" cy="892.2" r="2.85" fill="#F8766D"/>
<circle cx="1845.4" cy="879.3" r="2.85" fill="#03B9BE"/>
<circle cx="1828.9" cy="897.6" r="2.85" fill="#03B9BE"/>
<circle cx="2001.2" cy="831.1" r="2.85" fill="#03B9BE"/>
<circle cx="1958.8" cy="841.6" r="2.85" fill="#03B9BE"/>
<circle cx="1980.6" cy="844.9" r="2.85" fill="#03B9BE"/>
<circle cx="1973.8" cy="865.8" r="2.85" fill="#03B9BE"/>
<circle cx="1947.2" cy="875.7" r="2.85" fill="#03B9BE"/>
<circle cx="1949.6" cy="892.2" r="2.85" fill="#03B9BE"/>
<circle cx="1954" cy="897.2" r="2.85" fill="#03B9BE"/>
<circle cx="1981.6" cy="896.2" r="2.85" fill="#03B9BE"/>
<circle cx="1989.6" cy="887.6" r="2.85" fill="#03B9BE"/>
<circle cx="1995.6" cy="887.6" r="2.85" fill="#03B9BE"/>
<circle cx="1994" cy="893.6" r="2.85" fill="#03B9BE"/>
<circle cx="2100.6" cy="705.3" r="2.85" fill="#03B9BE"/>
<circle cx="2143.7" cy="748" r="2.85" fill="#03B9BE"/>
<circle cx="2108.3" cy="822.1" r="2.85" fill="#03B9BE"/>
<circle cx="2118.3" cy="820.2" r="2.85" fill="#03B9BE"/>
<circle cx="2115.1" cy="878.7" r="2.85" fill="#03B9BE"/>
<circle cx="2119.5" cy="885.1" r="2.85" fill="#03B9BE"/>
<circle cx="2113.9" cy="887.6" r="2.85" fill="#03B9BE"/>
<circle cx="2257.6" cy="696.4" r="2.85" fill="#03B9BE"/>
<circle cx="2278.7" cy="693" r="2.85" fill="#03B9BE"/>
<circle cx="2239.2" cy="734.8" r="2.85" fill="#03B9BE"/>
<circle cx="2251.3" cy="763.5" r="2.85" fill="#03B9BE"/>
<circle cx="2242.3" cy="840" r="2.85" fill="#03B9BE"/>
<circle cx="2254.4" cy="846" r="2.85" fill="#03B9BE"/>
<circle cx="2250.8" cy="853.3" r="2.85" fill="#03B9BE"/>
<circle cx="2285.2" cy="840.6" r="2.85" fill="#03B9BE"/>
<circle cx="2286.7" cy="853.9" r="2.85" fill="#03B9BE"/>
<circle cx="2278" cy="869.8" r="2.85" fill="#03B9BE"/>
<circle cx="2279.4" cy="875.7" r="2.85" fill="#03B9BE"/>
<circle cx="2250.3" cy="894.2" r="2.85" fill="#03B9BE"/>
<circle cx="2431.4" cy="804.8" r="2.85" fill="#03B9BE"/>
<circle cx="2431.9" cy="819.8" r="2.85" fill="#03B9BE"/>
<circle cx="2389.7" cy="871.1" r="2.85" fill="#03B9BE"/>
<circle cx="2400.6" cy="876.3" r="2.85" fill="#03B9BE"/>
<circle cx="2404.7" cy="891.2" r="2.85" fill="#03B9BE"/>
<path d="M1972.5 884.8V892.2M1965.4 884.8H1979.6M1965.4 892.2H1979.6" stroke="#F8766D" stroke-width="2.6" fill="none"/>
<path d="M2118 814.6V856.3M2110.9 814.6H2125.1M2110.9 856.3H2125.1" stroke="#F8766D" stroke-width="2.6" fill="none"/>
<path d="M2262.9 782.4V862.5M2255.8 782.4H2270M2255.8 862.5H2270" stroke="#F8766D" stroke-width="2.6" fill="none"/>
<path d="M1828.9 884.3V895M1821.8 884.3H1836M1821.8 895H1836" stroke="#03B9BE" stroke-width="3" fill="none"/>
<path d="M1973.3 869.8V882.3M1966.2 869.8H1980.4M1966.2 882.3H1980.4" stroke="#03B9BE" stroke-width="3" fill="none"/>
<path d="M2118 804.3V854.9M2110.9 804.3H2125.1M2110.9 854.9H2125.1" stroke="#03B9BE" stroke-width="3" fill="none"/>
<path d="M2262.9 795.3V833M2255.8 795.3H2270M2255.8 833H2270" stroke="#03B9BE" stroke-width="3" fill="none"/>
<path d="M2407.7 836V864.2M2400.6 836H2414.8M2400.6 864.2H2414.8" stroke="#03B9BE" stroke-width="3" fill="none"/>
<polyline points="1972.5,891.4 2118,835 2262.9,822.7" stroke="#F8766D" stroke-width="4.7" fill="none" stroke-linejoin="round"/>
<polyline points="1828.9,889.7 1973.3,876.7 2118,829.1 2262.9,814.2 2407.7,850.5" stroke="#03B9BE" stroke-width="4.7" fill="none" stroke-dasharray="4.8 5.2"/>
<circle cx="1972.5" cy="891.4" r="4.2" fill="#F8766D"/>
<circle cx="2118" cy="835" r="4.2" fill="#F8766D"/>
<circle cx="2262.9" cy="822.7" r="4.2" fill="#F8766D"/>
<circle cx="1828.9" cy="889.7" r="4.2" fill="#03B9BE"/>
<circle cx="1973.3" cy="876.7" r="4.2" fill="#03B9BE"/>
<circle cx="2118" cy="829.1" r="4.2" fill="#03B9BE"/>
<circle cx="2262.9" cy="814.2" r="4.2" fill="#03B9BE"/>
<circle cx="2407.7" cy="850.5" r="4.2" fill="#03B9BE"/>
</g>
<text transform="translate(436 43.6) scale(0.714 1)" font-family="'Liberation Serif', 'Times New Roman', serif" font-size="56.8" font-weight="bold" text-anchor="middle" fill="#000">Season 1</text>
<text transform="translate(1278.4 43.6) scale(0.714 1)" font-family="'Liberation Serif', 'Times New Roman', serif" font-size="56.8" font-weight="bold" text-anchor="middle" fill="#000">Season 2</text>
<text transform="translate(2119.3 43.6) scale(0.714 1)" font-family="'Liberation Serif', 'Times New Roman', serif" font-size="56.8" font-weight="bold" text-anchor="middle" fill="#000">Season 3</text>
<text transform="translate(1280.2 1231.2) scale(0.713 1)" font-family="'Liberation Serif', 'Times New Roman', serif" font-size="66.1" font-weight="bold" text-anchor="middle" fill="#000">Month</text>
<text transform="translate(29.3 296.9) rotate(-90) scale(1.226 1)" font-family="'Liberation Serif', 'Times New Roman', serif" font-size="36.3" font-weight="normal" text-anchor="middle" fill="#000">Biomass (μgC L-<tspan font-size="18.3" dy="-12">1</tspan><tspan dy="12">)</tspan></text>
<text transform="translate(30 891.6) rotate(-90) scale(1.163 1)" font-family="'Liberation Serif', 'Times New Roman', serif" font-size="36.3" font-weight="normal" text-anchor="middle" fill="#000">Abundance (10<tspan font-size="18.3" dy="-12">6</tspan><tspan dy="12"> cells L-</tspan><tspan font-size="18.3" dy="-12">1</tspan><tspan dy="12">)</tspan></text>
<rect x="2339.6" y="57.9" width="157.9" height="163.5" fill="#fff" stroke="#555" stroke-width="1.4"/>
<text transform="translate(2356.8 96.9) scale(1.300 1)" font-family="'Liberation Serif', 'Times New Roman', serif" font-size="36.3" font-weight="normal" text-anchor="start" fill="#000">Zone</text>
<rect x="2347.2" y="129.8" width="43.8" height="10.2" fill="#F8766D"/>
<ellipse cx="2370.2" cy="134.9" rx="9.5" ry="13.8" fill="#F8766D"/>
<rect x="2350.1" y="184.2" width="8.4" height="11" fill="#03B9BE"/>
<rect x="2385" y="184.2" width="8.4" height="11" fill="#03B9BE"/>
<ellipse cx="2371.6" cy="189.3" rx="10" ry="13.8" fill="#03B9BE"/>
<text transform="translate(2414.7 150.1) scale(0.753 1)" font-family="'Liberation Serif', 'Times New Roman', serif" font-size="42.1" font-weight="normal" text-anchor="start" fill="#000">North</text>
<text transform="translate(2415.6 201) scale(0.754 1)" font-family="'Liberation Serif', 'Times New Roman', serif" font-size="42.1" font-weight="normal" text-anchor="start" fill="#000">South</text>
</svg>
</body></html>
